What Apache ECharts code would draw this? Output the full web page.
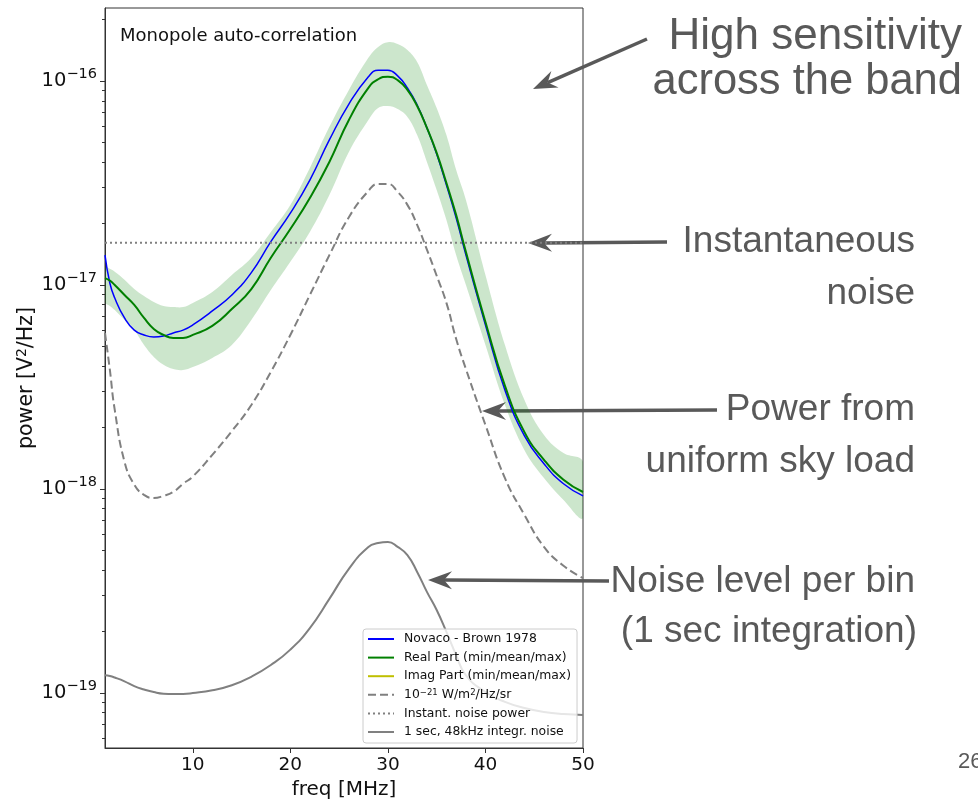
<!DOCTYPE html>
<html>
<head>
<meta charset="utf-8">
<title>Monopole auto-correlation</title>
<script src="https://cdn.jsdelivr.net/npm/echarts@6/dist/echarts.min.js"></script>
<style>html,body{margin:0;padding:0;background:#fff}#chart{width:978px;height:802px}</style>
</head>
<body>
<div id="chart"></div>
<script>
// ---- data ----
// frequency grid [MHz]
const freq = [1, 1.5, 2, 3, 4, 5, 6, 7, 8, 9, 10, 12, 14, 16, 18, 20, 22, 24, 26, 28, 29, 30, 31, 32, 33, 34, 35, 36, 37, 38, 40, 42, 44, 46, 48, 50];
// power [V^2/Hz]
const novacoBrown = [1.40e-17, 1.02e-17, 8.63e-18, 6.89e-18, 6.01e-18, 5.69e-18, 5.56e-18, 5.62e-18, 5.82e-18, 6.01e-18, 6.37e-18, 7.46e-18, 8.93e-18, 1.15e-17, 1.63e-17, 2.25e-17, 3.27e-17, 5.14e-17, 7.71e-17, 1.05e-16, 1.13e-16, 1.13e-16, 1.06e-16, 9.25e-17, 7.63e-17, 5.89e-17, 4.39e-17, 3.09e-17, 2.13e-17, 1.40e-17, 6.37e-18, 3.05e-18, 1.82e-18, 1.33e-18, 1.06e-18, 9.25e-19];
const realMean = [1.08e-17, 1.05e-17, 1.00e-17, 8.93e-18, 7.98e-18, 6.89e-18, 6.08e-18, 5.69e-18, 5.50e-18, 5.50e-18, 5.69e-18, 6.30e-18, 7.62e-18, 9.55e-18, 1.36e-17, 1.88e-17, 2.67e-17, 4.01e-17, 6.44e-17, 9.25e-17, 1.02e-16, 1.05e-16, 1.01e-16, 9.04e-17, 7.54e-17, 5.89e-17, 4.44e-17, 3.16e-17, 2.20e-17, 1.45e-17, 6.59e-18, 3.20e-18, 1.90e-18, 1.39e-18, 1.11e-18, 9.66e-19];
const realMax = [1.22e-17, 1.20e-17, 1.16e-17, 1.06e-17, 9.55e-18, 8.83e-18, 8.26e-18, 7.89e-18, 7.80e-18, 7.80e-18, 8.17e-18, 9.25e-18, 1.12e-17, 1.36e-17, 1.82e-17, 2.47e-17, 3.75e-17, 5.96e-17, 9.04e-17, 1.30e-16, 1.47e-16, 1.55e-16, 1.52e-16, 1.42e-16, 1.24e-16, 9.56e-17, 7.38e-17, 5.43e-17, 3.66e-17, 2.61e-17, 1.12e-17, 5.08e-18, 2.73e-18, 1.84e-18, 1.50e-18, 1.36e-18];
const realMin = [8.26e-18, 7.89e-18, 7.54e-18, 6.73e-18, 6.01e-18, 5.08e-18, 4.44e-18, 4.06e-18, 3.87e-18, 3.83e-18, 3.96e-18, 4.39e-18, 5.08e-18, 6.73e-18, 9.44e-18, 1.30e-17, 1.82e-17, 2.76e-17, 4.49e-17, 6.44e-17, 7.38e-17, 7.54e-17, 7.29e-17, 6.67e-17, 5.43e-17, 4.01e-17, 2.92e-17, 2.08e-17, 1.40e-17, 1.00e-17, 5.08e-18, 2.58e-18, 1.55e-18, 1.13e-18, 8.83e-19, 7.21e-19];
const skyLoad = [5.82e-18, 3.83e-18, 2.44e-18, 1.36e-18, 1.05e-18, 9.35e-19, 9.03e-19, 9.25e-19, 9.67e-19, 1.06e-18, 1.15e-18, 1.47e-18, 1.92e-18, 2.58e-18, 3.75e-18, 5.69e-18, 8.93e-18, 1.40e-17, 2.15e-17, 2.89e-17, 3.13e-17, 3.13e-17, 2.86e-17, 2.47e-17, 1.97e-17, 1.49e-17, 1.11e-17, 8.17e-18, 5.43e-18, 3.87e-18, 2.06e-18, 1.13e-18, 7.46e-19, 5.20e-19, 4.20e-19, 3.66e-19];
const integrNoise = [1.22e-19, 1.21e-19, 1.19e-19, 1.14e-19, 1.08e-19, 1.04e-19, 1.01e-19, 9.92e-20, 9.89e-20, 9.89e-20, 9.98e-20, 1.03e-19, 1.09e-19, 1.20e-19, 1.37e-19, 1.63e-19, 2.08e-19, 2.89e-19, 4.06e-19, 5.20e-19, 5.43e-19, 5.50e-19, 5.20e-19, 4.74e-19, 3.92e-19, 3.13e-19, 2.55e-19, 1.99e-19, 1.53e-19, 1.22e-19, 1.01e-19, 9.04e-20, 8.44e-20, 8.07e-20, 7.88e-20, 7.80e-20];
const instantFreq = [1, 50];
const instantNoise = [1.61e-17, 1.61e-17];
const imagPart = []; // off scale, legend only

// axis ranges / ticks
const freqRange = [1, 50];
const freqTicks = [10, 20, 30, 40, 50];
const powerRange = [5.37e-20, 2.28e-16];
const powerDecades = [-19, -18, -17, -16];

// legend names
const names = {
  novaco: 'Novaco - Brown 1978',
  real: 'Real Part (min/mean/max)',
  imag: 'Imag Part (min/mean/max)',
  sky: '10−21 W/m2/Hz/sr',
  instant: 'Instant. noise power',
  integr: '1 sec, 48kHz integr. noise'
};

// ---- helpers ----
const lg = (v) => Math.log10(v);
const pairs = (xs, vs) => xs.map((x, i) => [x, lg(vs[i])]);

// minor ticks 2..9 x 10^n (log space)
const minorTicks = [];
for (let n = -20; n <= -16; n++) {
  for (let k = 2; k <= 9; k++) {
    const t = n + Math.log10(k);
    if (t > lg(powerRange[0]) && t < lg(powerRange[1])) minorTicks.push(t);
  }
}

const GREY = '#595959';
// arrow from (x1,y1) to tip (x2,y2)
function arrow(x1, y1, x2, y2) {
  const dx = x2 - x1, dy = y2 - y1, L = Math.hypot(dx, dy);
  const ux = dx / L, uy = dy / L, px = -uy, py = ux;
  const head = 24, notch = 16, half = 9;
  const bx = x2 - ux * head, by = y2 - uy * head;
  const nx = x2 - ux * notch, ny = y2 - uy * notch;
  return [
    { type: 'line', shape: { x1: x1, y1: y1, x2: nx, y2: ny }, style: { stroke: GREY, lineWidth: 3.5 } },
    { type: 'polygon', shape: { points: [[x2, y2], [bx + px * half, by + py * half], [nx, ny], [bx - px * half, by - py * half]] }, style: { fill: GREY } }
  ];
}
function note(text, x, y, size) {
  return { type: 'text', x: x, y: y, style: { text: text, fill: GREY, font: size + 'px "Liberation Sans", Arial, sans-serif', align: 'right', verticalAlign: 'middle' } };
}

const graphics = [].concat(
  note('High sensitivity', 962, 37, 44), note('across the band', 962, 82, 43.5), arrow(647, 39, 533, 89),
  note('Instantaneous', 915, 242, 37), note('noise', 915, 294, 37), arrow(667, 242, 528, 243),
  note('Power from', 915, 410, 37), note('uniform sky load', 915, 462, 37), arrow(717, 410, 482, 411),
  note('Noise level per bin', 915, 582, 37), note('(1 sec integration)', 917, 632, 37), arrow(609, 581, 428, 580),
  [{ type: 'text', x: 958, y: 762, style: { text: '26', fill: GREY, font: '22px "Liberation Sans", Arial, sans-serif', verticalAlign: 'middle' } }]
);

const FONT = '"DejaVu Sans", sans-serif';
const smooth = 0.5;

// min/max band of the real part, drawn as one polygon through the axis scales
function renderBand(params, api) {
  const upper = freq.map((f, i) => api.coord([f, lg(realMax[i])]));
  const lower = freq.map((f, i) => api.coord([f, lg(realMin[i])])).reverse();
  return {
    type: 'polygon',
    shape: { points: upper.concat(lower), smooth: 0.4 },
    style: { fill: 'rgba(0,128,0,0.2)' }
  };
}

const option = {
  animation: false,
  backgroundColor: '#fff',
  title: {
    text: 'Monopole auto-correlation', left: 115, top: 22,
    textStyle: { fontFamily: FONT, fontSize: 18, fontWeight: 'normal', color: '#111' }
  },
  grid: {
    left: 105, right: 395, top: 8, bottom: 54, outerBoundsMode: 'none', containLabel: false,
    show: true, borderColor: '#333', borderWidth: 1, backgroundColor: 'transparent'
  },
  legend: {
    orient: 'vertical', left: 363, top: 629,
    data: [names.novaco, names.real, names.imag, names.sky, names.instant, names.integr],
    selectedMode: false,
    itemWidth: 26, itemHeight: 12, itemGap: 4.6,
    padding: [3, 6, 4, 4],
    itemStyle: { opacity: 0 },
    backgroundColor: 'rgba(255,255,255,0.8)', borderColor: '#ccc', borderWidth: 1, borderRadius: 3,
    textStyle: {
      fontFamily: FONT, fontSize: 12.4, color: '#111', lineHeight: 14,
      rich: {
        t: { fontFamily: FONT, fontSize: 12.4, lineHeight: 14, padding: [0, 0, 0, 5], color: '#111' },
        u: { fontFamily: FONT, fontSize: 12.4, lineHeight: 14, color: '#111' },
        s: { fontFamily: FONT, fontSize: 8.5, lineHeight: 9, verticalAlign: 'top', color: '#111' }
      }
    },
    formatter: (n) => n === names.sky ? '{t|10}{s|−21}{u| W/m}{s|2}{u|/Hz/sr}' : '{t|' + n + '}'
  },
  xAxis: {
    type: 'value', min: freqRange[0], max: freqRange[1],
    name: 'freq [MHz]', nameLocation: 'middle', nameGap: 31,
    nameTextStyle: { fontFamily: FONT, fontSize: 20, color: '#111' },
    axisLine: { lineStyle: { color: '#333', width: 1 } },
    axisTick: { length: 5, customValues: freqTicks, lineStyle: { color: '#333' } },
    axisLabel: { customValues: freqTicks, margin: 8, fontFamily: FONT, fontSize: 18.5, color: '#111' },
    splitLine: { show: false }
  },
  yAxis: [
    {
      type: 'value', min: lg(powerRange[0]), max: lg(powerRange[1]),
      name: '{a|power [V}{s|2}{a|/Hz]}', nameLocation: 'middle', nameGap: 66,
      nameTextStyle: {
        fontFamily: FONT, fontSize: 20, color: '#111',
        rich: {
          a: { fontFamily: FONT, fontSize: 20.5, lineHeight: 24, color: '#111' },
          s: { fontFamily: FONT, fontSize: 14, lineHeight: 14, verticalAlign: 'top', color: '#111' }
        }
      },
      axisLine: { lineStyle: { color: '#333', width: 1 } },
      axisTick: { length: 5, customValues: powerDecades, lineStyle: { color: '#333' } },
      axisLabel: {
        customValues: powerDecades, margin: 8,
        formatter: (v) => '{b|10}{s|−' + Math.abs(Math.round(v)) + '}',
        rich: {
          b: { fontFamily: FONT, fontSize: 19.5, lineHeight: 28, color: '#111' },
          s: { fontFamily: FONT, fontSize: 14.5, lineHeight: 15, verticalAlign: 'top', color: '#111' }
        }
      },
      splitLine: { show: false }
    },
    {
      type: 'value', min: lg(powerRange[0]), max: lg(powerRange[1]), position: 'left',
      axisLine: { show: false },
      axisTick: { length: 3, customValues: minorTicks, lineStyle: { color: '#333' } },
      axisLabel: { show: false },
      splitLine: { show: false }
    }
  ],
  series: [
    { name: 'band', type: 'custom', data: [[freq[0], lg(realMean[0])]], renderItem: renderBand, clip: true, silent: true, z: 1 },
    { name: names.novaco, type: 'line', data: pairs(freq, novacoBrown), symbol: 'none', smooth: smooth,
      color: '#0000ff', lineStyle: { color: '#0000ff', width: 1.5 } },
    { name: names.real, type: 'line', data: pairs(freq, realMean), symbol: 'none', smooth: smooth,
      color: '#008000', lineStyle: { color: '#008000', width: 2 } },
    { name: names.imag, type: 'line', data: imagPart, symbol: 'none',
      color: '#bfbf00', lineStyle: { color: '#bfbf00', width: 2 } },
    { name: names.sky, type: 'line', data: pairs(freq, skyLoad), symbol: 'none', smooth: smooth,
      color: '#808080', lineStyle: { color: '#808080', width: 2, type: [8, 4] } },
    { name: names.instant, type: 'line', data: pairs(instantFreq, instantNoise), symbol: 'none',
      color: '#808080', lineStyle: { color: '#808080', width: 2, type: [2, 3] } },
    { name: names.integr, type: 'line', data: pairs(freq, integrNoise), symbol: 'none', smooth: smooth,
      color: '#808080', lineStyle: { color: '#808080', width: 2 } }
  ],
  graphic: graphics
};

const chart = echarts.init(document.getElementById('chart'), null, { renderer: 'canvas' });
chart.setOption(option);
</script>
</body>
</html>
